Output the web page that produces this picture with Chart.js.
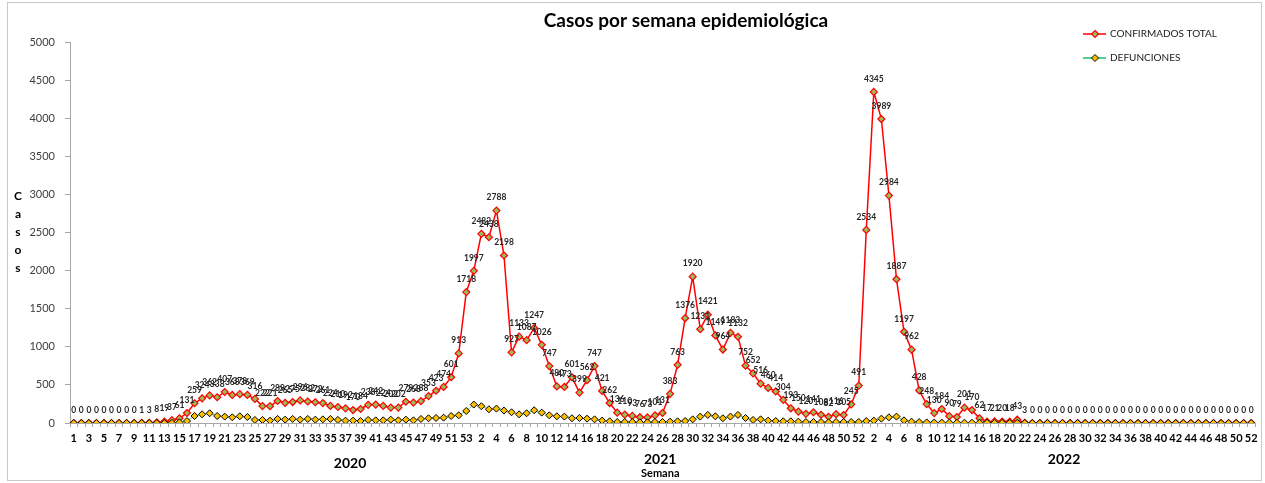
<!DOCTYPE html>
<html lang="es">
<head>
<meta charset="utf-8">
<title>Casos por semana epidemiológica</title>
<script src="https://cdn.jsdelivr.net/npm/chart.js@4.4.0/dist/chart.umd.min.js"></script>
<style>
  html, body { margin: 0; padding: 0; background: #fff; }
</style>
</head>
<body>
<canvas id="grafico" width="1265" height="483"></canvas>
<script>
// Semanas epidemiológicas de cada año
const semanas2020 = Array.from({ length: 53 }, (_, i) => String(i + 1));
const semanas2021 = Array.from({ length: 52 }, (_, i) => String(i + 1));
const semanas2022 = Array.from({ length: 52 }, (_, i) => String(i + 1));
const anios = ['2020', '2021', '2022'];

// Casos confirmados por semana
const confirmados2020 = [0, 0, 0, 0, 0, 0, 0, 0, 0, 1, 3, 8, 19, 37, 61,
  131, 259, 324, 362, 338, 407, 368, 378, 369, 316,
  222, 221, 289, 265, 275, 296, 282, 272, 261, 224,
  210, 192, 170, 184, 238, 242, 224, 202, 202, 279,
  268, 288, 353, 423, 474, 601, 913, 1718];
const confirmados2021 = [1997, 2482, 2438, 2788, 2198, 927, 1133, 1087, 1247, 1026,
  747, 480, 473, 601, 399, 562, 747, 421, 262, 136,
  110, 93, 76, 73, 101, 131, 383, 763, 1376, 1920,
  1231, 1421, 1149, 964, 1183, 1132, 752, 652, 516, 460,
  414, 304, 193, 150, 120, 141, 108, 82, 116, 105,
  245, 491];
const confirmados2022 = [2534, 4345, 3989, 2984, 1887, 1197, 962, 428, 248, 130,
  184, 90, 79, 201, 170, 62, 17, 21, 20, 18,
  43, 3, 0, 0, 0, 0, 0, 0, 0, 0,
  0, 0, 0, 0, 0, 0, 0, 0, 0, 0,
  0, 0, 0, 0, 0, 0, 0, 0, 0, 0,
  0, 0];

// Defunciones por semana
const defunciones2020 = [0, 0, 0, 0, 0, 0, 0, 0, 0, 0, 0, 0, 0,
  2, 8, 26, 92, 114, 128, 92, 84, 75, 88,
  79, 40, 40, 31, 53, 44, 53, 44, 53, 44,
  48, 53, 40, 31, 31, 26, 40, 35, 35, 44,
  35, 44, 35, 53, 62, 66, 70, 92, 101, 158];
const defunciones2021 = [242, 220, 180, 189, 163, 141, 114, 128, 167, 136,
  101, 88, 84, 62, 66, 57, 48, 31, 22, 13,
  13, 13, 9, 9, 13, 13, 18, 22, 26, 48,
  84, 106, 88, 62, 84, 106, 66, 40, 48, 31,
  26, 22, 22, 18, 13, 13, 13, 9, 13, 13,
  13, 13];
const defunciones2022 = [26, 31, 57, 75, 84, 35, 18, 12, 8, 6,
  5, 5, 4, 4, 4, 3, 3, 2, 2, 2,
  2, 1, 0, 0, 0, 0, 0, 0, 0, 0,
  0, 0, 0, 0, 0, 0, 0, 0, 0, 0,
  0, 0, 0, 0, 0, 0, 0, 0, 0, 0,
  0, 0];

const etiquetas = [...semanas2020, ...semanas2021, ...semanas2022];
const confirmados = [...confirmados2020, ...confirmados2021, ...confirmados2022];
const defunciones = [...defunciones2020, ...defunciones2021, ...defunciones2022];

const FUENTE = 'Lato, "Open Sans", sans-serif';
const ROJO = '#ff0000';
const OLIVA = '#9bbb59';
const VERDE = '#4fd08c';
const DORADO = '#ffc000';

function rombo(ctx, x, y, r, relleno, borde, grosor) {
  ctx.beginPath();
  ctx.moveTo(x, y - r);
  ctx.lineTo(x + r, y);
  ctx.lineTo(x, y + r);
  ctx.lineTo(x - r, y);
  ctx.closePath();
  ctx.fillStyle = relleno;
  ctx.fill();
  ctx.lineWidth = grosor;
  ctx.strokeStyle = borde;
  ctx.stroke();
}

// Textos, leyenda y etiquetas de valores
const decoracion = {
  id: 'decoracion',
  beforeDraw(chart) {
    const ctx = chart.ctx;
    ctx.save();
    ctx.fillStyle = '#fff';
    ctx.fillRect(0, 0, chart.width, chart.height);
    ctx.strokeStyle = '#c8c8c8';
    ctx.lineWidth = 1;
    ctx.strokeRect(7.5, 2.5, 1254, 478);
    ctx.restore();
  },
  afterDatasetsDraw(chart) {
    const ctx = chart.ctx;
    const meta = chart.getDatasetMeta(0);
    ctx.save();
    ctx.font = 'bold 8.5px ' + FUENTE;
    ctx.fillStyle = '#262626';
    ctx.textAlign = 'center';
    ctx.textBaseline = 'middle';
    meta.data.forEach((p, i) => {
      ctx.fillText(String(confirmados[i]), p.x, p.y - 13);
    });
    ctx.restore();
  },
  afterDraw(chart) {
    const ctx = chart.ctx;
    const x = chart.scales.x;
    ctx.save();
    ctx.fillStyle = '#000';
    ctx.textAlign = 'center';
    ctx.textBaseline = 'middle';

    ctx.font = 'bold 19px ' + FUENTE;
    ctx.fillText('Casos por semana epidemiológica', 686, 21);

    // Título del eje Y, letra por letra
    ctx.font = 'bold 12px ' + FUENTE;
    ['C', 'a', 's', 'o', 's'].forEach((l, i) => ctx.fillText(l, 18, 196 + i * 18));

    // Años bajo las semanas
    ctx.font = 'bold 14px ' + FUENTE;
    const posAnio = [36.6, 77.7, 131.2];
    const altoAnio = [463, 459, 459];
    anios.forEach((a, i) => ctx.fillText(a, x.getPixelForValue(posAnio[i]), altoAnio[i]));
    ctx.font = 'bold 11px ' + FUENTE;
    ctx.fillText('Semana', x.getPixelForValue(77.7), 473);

    // Leyenda
    ctx.textAlign = 'left';
    ctx.font = '10px ' + FUENTE;
    ctx.lineWidth = 1.5;
    ctx.strokeStyle = ROJO;
    ctx.beginPath(); ctx.moveTo(1083, 34); ctx.lineTo(1106, 34); ctx.stroke();
    rombo(ctx, 1095, 34, 3.5, OLIVA, ROJO, 1.2);
    ctx.fillStyle = '#1a1a1a';
    ctx.fillText('CONFIRMADOS TOTAL', 1110, 34);

    ctx.lineWidth = 2;
    ctx.strokeStyle = VERDE;
    ctx.beginPath(); ctx.moveTo(1083, 58); ctx.lineTo(1106, 58); ctx.stroke();
    rombo(ctx, 1095, 58, 3.5, DORADO, '#000', 1);
    ctx.fillStyle = '#1a1a1a';
    ctx.fillText('DEFUNCIONES', 1110, 58);
    ctx.restore();
  }
};

new Chart(document.getElementById('grafico'), {
  type: 'line',
  data: {
    labels: etiquetas,
    datasets: [
      {
        label: 'CONFIRMADOS TOTAL',
        data: confirmados,
        borderColor: ROJO,
        borderWidth: 1.5,
        pointStyle: 'rectRot',
        pointRadius: 3.5,
        pointBackgroundColor: OLIVA,
        pointBorderColor: ROJO,
        pointBorderWidth: 1.2,
        tension: 0,
        order: 1
      },
      {
        label: 'DEFUNCIONES',
        data: defunciones,
        borderColor: VERDE,
        borderWidth: 1,
        pointStyle: 'rectRot',
        pointRadius: 3.5,
        pointBackgroundColor: DORADO,
        pointBorderColor: '#000',
        pointBorderWidth: 1,
        tension: 0,
        order: 0
      }
    ]
  },
  options: {
    responsive: false,
    animation: false,
    layout: { padding: { top: 42, right: 10, left: 0, bottom: 0 } },
    plugins: {
      legend: { display: false },
      title: { display: false },
      tooltip: { enabled: false }
    },
    scales: {
      x: {
        offset: true,
        afterFit(s) { s.height = 60; },
        grid: { display: true, drawOnChartArea: false, offset: true, tickLength: 4, color: '#a6a6a6' },
        border: { color: '#a6a6a6' },
        ticks: {
          autoSkip: false,
          maxRotation: 0,
          minRotation: 0,
          padding: 5,
          color: '#000',
          font: { family: FUENTE, size: 11, weight: 'bold' },
          callback: (v, i) => (i % 2 === 0 ? etiquetas[i] : '')
        }
      },
      y: {
        min: 0,
        max: 5000,
        afterFit(s) { s.width = 70; },
        grid: { display: true, drawOnChartArea: false, tickLength: 5, color: '#a6a6a6' },
        border: { color: '#a6a6a6' },
        ticks: {
          stepSize: 500,
          padding: 10,
          color: '#404040',
          font: { family: FUENTE, size: 11 },
          callback: v => String(v)
        }
      }
    }
  },
  plugins: [decoracion]
});
</script>
</body>
</html>
